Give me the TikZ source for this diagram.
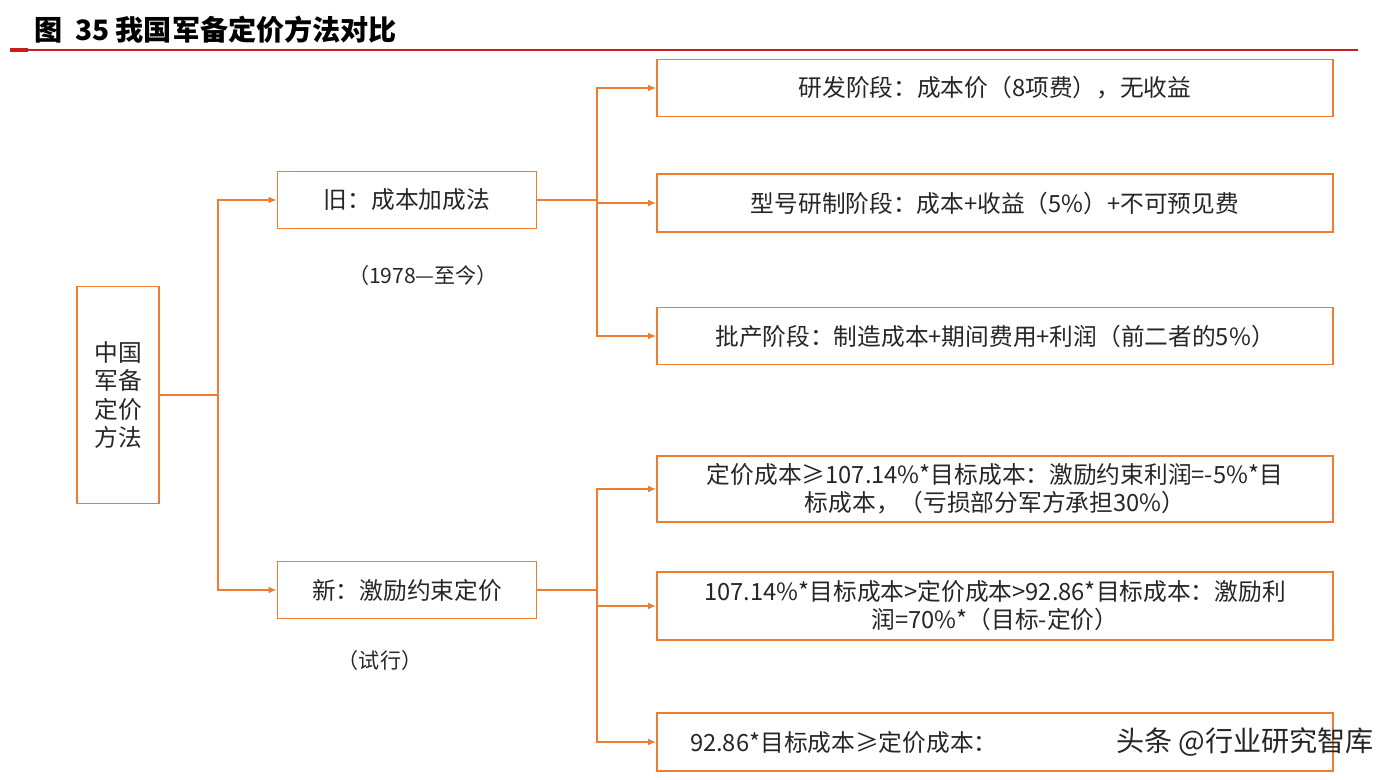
\documentclass[tikz,border=0pt]{standalone}
\usepackage{fontspec}
\setmainfont{Noto Sans CJK SC}
\usetikzlibrary{arrows.meta}
\definecolor{linkorange}{RGB}{237,125,49}
\definecolor{titlered}{RGB}{200,30,30}
\tikzset{
  box/.style={draw=linkorange,line width=1.1pt,font=\fontsize{13.5}{16}\selectfont,text=black!85,align=center,inner sep=2pt},
  link/.style={draw=linkorange,line width=1.1pt,-{Latex[length=1.6mm,width=1.4mm]}}
}
\begin{document}
\begin{tikzpicture}[x=0.02cm,y=-0.02cm]
  \useasboundingbox (0,0) rectangle (1390,780);
  % title
  \node [anchor=west,font=\fontsize{16}{18}\selectfont\bfseries] (title) at (28,30) {图\ \ 35 我国军备定价方法对比};
  \draw [titlered,line width=0.8pt] (10,50) -- (1358,50);
  \draw [titlered,line width=2.2pt] (10,50) -- (28,50);
  % boxes
  \node [box,minimum width=1.64cm,minimum height=4.34cm] (root) at (118,395) {中国\\军备\\定价\\方法};
  \node [box,minimum width=5.18cm,minimum height=1.14cm] (old) at (407,200) {旧：成本加成法};
  \node [box,minimum width=5.18cm,minimum height=1.14cm] (new) at (407,590) {新：激励约束定价};
  \node [font=\fontsize{12}{14}\selectfont,text=black!85] (oldnote) at (423,275) {（1978—至今）};
  \node [font=\fontsize{12}{14}\selectfont,text=black!85] (newnote) at (380,660) {（试行）};
  \foreach \name/\y/\h/\txt in {
      b1/88/1.14/{研发阶段：成本价（8项费），无收益},
      b2/203/1.16/{型号研制阶段：成本+收益（5\%）+不可预见费},
      b3/336/1.14/{批产阶段：制造成本+期间费用+利润（前二者的5\%）},
      b4/489/1.32/{定价成本≥107.14\%*目标成本：激励约束利润=-5\%*目\\标成本，（亏损部分军方承担30\%）},
      b5/606/1.36/{107.14\%*目标成本>定价成本>92.86*目标成本：激励利\\润=70\%*（目标-定价）}}
    \node [box,minimum width=13.52cm,minimum height=\h cm,text width=13.2cm] (\name) at (995,\y) {\txt};
  \node [box,minimum width=13.52cm,minimum height=1.16cm,text width=13.2cm,align=left] (b6) at (995,742) {\hspace*{0.5cm}92.86*目标成本≥定价成本：};
  \node [font=\fontsize{16}{18}\selectfont,text=black!85] (mark) at (1245,742) {头条 @行业研究智库};
  % connectors
  \coordinate (j0) at (218,0);
  \coordinate (j1) at (597,0);
  \foreach \t in {old,new}
    \draw [link] (root.east) -| (j0 |- \t.west) -- (\t.west);
  \foreach \t in {b1,b2,b3}
    \draw [link] (old.east) -| (j1 |- \t.west) -- (\t.west);
  \foreach \t in {b4,b5,b6}
    \draw [link] (new.east) -| (j1 |- \t.west) -- (\t.west);
\end{tikzpicture}
\end{document}
